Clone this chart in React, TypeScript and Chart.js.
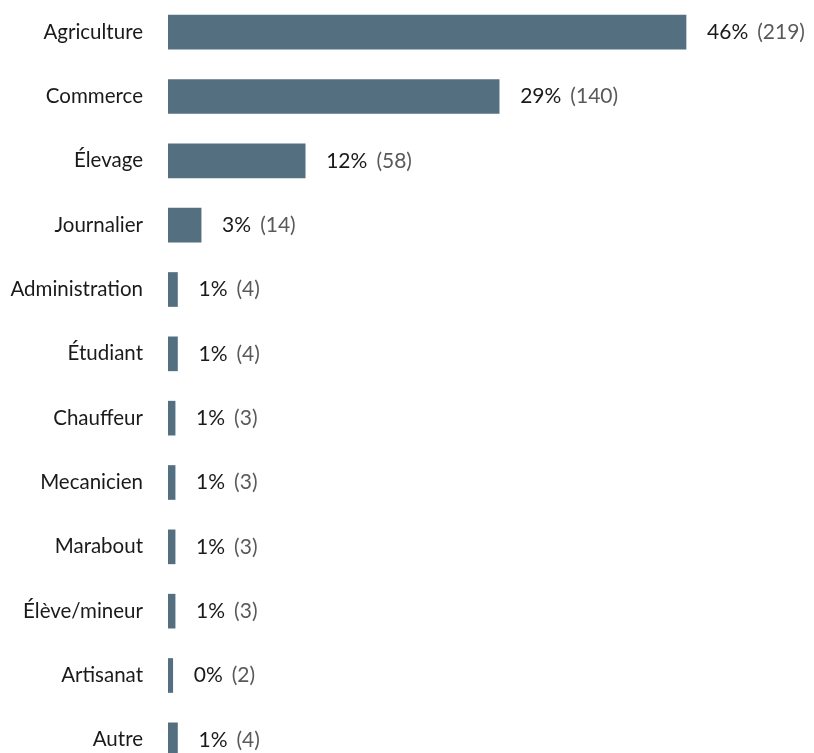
import React, { useEffect, useRef } from "react";
import { Chart, registerables } from "chart.js";

Chart.register(...registerables);

const categories = [
  "Agriculture",
  "Commerce",
  "Élevage",
  "Journalier",
  "Administration",
  "Étudiant",
  "Chauffeur",
  "Mecanicien",
  "Marabout",
  "Élève/mineur",
  "Artisanat",
  "Autre",
];
const counts = [219, 140, 58, 14, 4, 4, 3, 3, 3, 3, 2, 4];
const percents = [46, 29, 12, 3, 1, 1, 1, 1, 1, 1, 0, 1];

const FONT = "Lato, 'Open Sans', sans-serif";
const BAR_COLOR = "#546f80";
const W = 814;
const H = 772;

const valueLabels = {
  id: "valueLabels",
  afterDatasetsDraw(chart: any) {
    const ctx = chart.ctx;
    const meta = chart.getDatasetMeta(0);
    ctx.save();
    ctx.font = `21px ${FONT}`;
    ctx.textBaseline = "middle";
    ctx.textAlign = "left";
    meta.data.forEach((bar: any, i: number) => {
      const x = bar.x + 21;
      const y = bar.y;
      const pct = `${percents[i]}%`;
      ctx.fillStyle = "#1a1a1a";
      ctx.fillText(pct, x, y);
      const w = ctx.measureText(pct).width + 9;
      ctx.fillStyle = "#5a5a5a";
      ctx.fillText(`(${counts[i]})`, x + w, y);
    });
    ctx.restore();
  },
};

export default function App() {
  const ref = useRef<HTMLCanvasElement>(null);
  useEffect(() => {
    if (!ref.current) return;
    const chart = new Chart(ref.current, {
      type: "bar",
      data: {
        labels: categories,
        datasets: [
          {
            data: counts,
            backgroundColor: BAR_COLOR,
            barThickness: 34,
          },
        ],
      },
      options: {
        indexAxis: "y",
        animation: false,
        responsive: false,
        maintainAspectRatio: false,
        devicePixelRatio: 1,
        layout: { padding: { top: 0, bottom: 0, left: 0, right: 31 } },
        plugins: {
          legend: { display: false },
          title: { display: false },
          tooltip: { enabled: false },
        },
        scales: {
          x: {
            display: false,
            min: 0,
            max: 260,
          },
          y: {
            grid: { display: false, drawTicks: false, tickLength: 0 },
            border: { display: false },
            ticks: {
              padding: 25,
              color: "#1a1a1a",
              font: { family: FONT, size: 20.5 },
            },
            afterFit(scale: any) {
              scale.width = 168;
              scale.paddingTop = 0;
              scale.paddingBottom = 0;
            },
          },
        },
      },
      plugins: [valueLabels],
    });
    return () => chart.destroy();
  }, []);
  return (
    <div
      style={{
        position: "absolute",
        left: 0,
        top: 0,
        width: W,
        height: H,
        background: "#fff",
      }}
    >
      <canvas ref={ref} width={W} height={H} style={{ display: "block" }} />
    </div>
  );
}
